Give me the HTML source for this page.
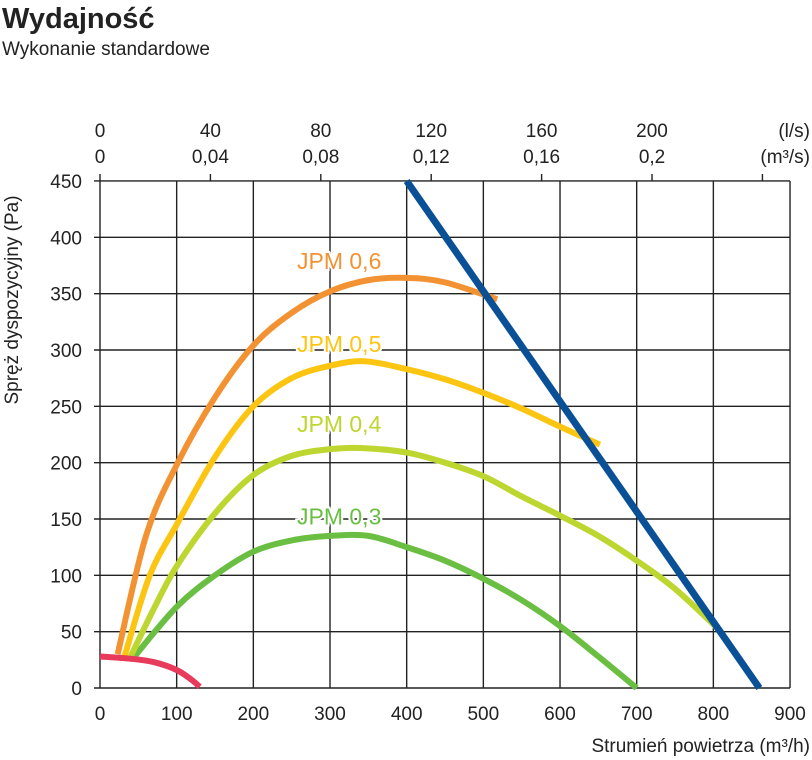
<!DOCTYPE html>
<html><head><meta charset="utf-8"><style>
body{margin:0;background:#fff;}
svg{display:block;font-family:"Liberation Sans",sans-serif;}
</style></head><body>
<svg width="812" height="760" viewBox="0 0 812 760" id="chart">
<text x="2" y="28" font-size="29" font-weight="bold" fill="#222">Wydajność</text>
<text x="2" y="55" font-size="19" fill="#222">Wykonanie standardowe</text>
<text transform="translate(18,300) rotate(-90)" text-anchor="middle" font-size="19" fill="#222">Spręż dyspozycyjny (Pa)</text>
<text x="810" y="752" text-anchor="end" font-size="19" fill="#222">Strumień powietrza (m³/h)</text>
<text x="810" y="137" text-anchor="end" font-size="19" fill="#222">(l/s)</text>
<text x="810" y="163" text-anchor="end" font-size="19" fill="#222">(m³/s)</text>
<g id="grid"></g><g id="series"></g><g id="labels"></g>
</svg>
<script>
const xTicks=[0,100,200,300,400,500,600,700,800,900];
const yTicks=[0,50,100,150,200,250,300,350,400,450];
const topTicksLs=[0,40,80,120,160,200,240];
const topLabelsLs=["0","40","80","120","160","200",""];
const topLabelsM3s=["0","0,04","0,08","0,12","0,16","0,2",""];
const jpm06=[[23,30],[60,135],[100,198],[150,258],[200,304],[250,333],[300,352],[350,362],[400,364],[450,360],[518,345]];
const jpm05=[[32,28],[65,100],[100,145],[150,205],[200,250],[250,275],[300,286],[345,290],[400,283],[450,274],[500,262],[550,248],[600,232],[652,216]];
const jpm04=[[40,28],[70,70],[100,108],[150,155],[200,189],[250,206],[300,212],[340,213],[400,209],[450,200],[500,188],[550,170],[600,153],[650,135],[700,113],[750,88],[810,50]];
const jpm03=[[45,28],[100,72],[150,100],[200,121],[250,131],[300,135],[350,135],[400,125],[450,113],[500,97],[550,78],[600,55],[650,28],[700,0]];
const minCurve=[[0,28],[40,26],[70,23],[100,16],[120,7],[130,1]];
const maxLine=[[400,450],[860,0]];
const seriesNames=["JPM 0,6","JPM 0,5","JPM 0,4","JPM 0,3"];
const labelPos=[[0,372],[0,298],[0,227],[0,145]];

const NS="http://www.w3.org/2000/svg";
const X=v=>100+v*0.7667, Y=v=>688-v*1.1267;
function mk(t,a,p){const e=document.createElementNS(NS,t);for(const k in a)e.setAttribute(k,a[k]);p.appendChild(e);return e;}
const grid=document.getElementById('grid');
xTicks.forEach(v=>{
 const l=mk('line',{x1:X(v),x2:X(v),y1:Y(450),y2:Y(0),stroke:'#222','stroke-width':1.4},grid);
 
 
 const t=mk('text',{x:X(v),y:720,'text-anchor':'middle','font-size':19,fill:'#222'},grid);t.textContent=v;
 
 
});
yTicks.forEach(v=>{
 const l=mk('line',{x1:X(0)-6,x2:X(900),y1:Y(v),y2:Y(v),stroke:'#222','stroke-width':1.4},grid);
 
 
 const t=mk('text',{x:82,y:Y(v)+7,'text-anchor':'end','font-size':19,fill:'#222'},grid);t.textContent=v;
 
 
});
topTicksLs.forEach((v,i)=>{
 const x=X(v*3.6);
 const l=mk('line',{x1:x,x2:x,y1:Y(450)-7,y2:Y(450),stroke:'#222','stroke-width':1.4},grid);
 
 
 if(topLabelsLs[i]){
  const a=mk('text',{x:x,y:137,'text-anchor':'middle','font-size':19,fill:'#222'},grid);a.textContent=topLabelsLs[i];
  
  
  const b=mk('text',{x:x,y:163,'text-anchor':'middle','font-size':19,fill:'#222'},grid);b.textContent=topLabelsM3s[i];
  
  
 }
});
function smooth(pts){
 const p=pts.map(q=>[X(q[0]),Y(q[1])]);let d='M'+p[0][0]+','+p[0][1];
 for(let i=0;i<p.length-1;i++){
  const p0=p[i-1]||p[i],p1=p[i],p2=p[i+1],p3=p[i+2]||p2;
  d+=` C${p1[0]+(p2[0]-p0[0])/6},${p1[1]+(p2[1]-p0[1])/6} ${p2[0]-(p3[0]-p1[0])/6},${p2[1]-(p3[1]-p1[1])/6} ${p2[0]},${p2[1]}`;
 }return d;
}
const ser=document.getElementById('series');
const defs=[[jpm03,'#6abf43','jpm-0-3-curve'],[jpm04,'#bed630','jpm-0-4-curve'],[jpm05,'#fcc512','jpm-0-5-curve'],[jpm06,'#f39232','jpm-0-6-curve'],[minCurve,'#e83a5a','minimum-curve'],[maxLine,'#0a5096','maximum-line']];
defs.forEach(d=>{
 const e=mk('path',{d:smooth(d[0]),fill:'none',stroke:d[1],'stroke-width':d[2]=='maximum-line'?7:6,'stroke-linecap':'butt'},ser);
 
 
});
const lab=document.getElementById('labels');
const labCols=['#f39232','#fcc512','#bed630','#6abf43'];
seriesNames.forEach((n,i)=>{
 const t=mk('text',{x:297,y:Y(labelPos[i][1]),'font-size':23,fill:labCols[i],stroke:'#fff','stroke-width':4,'paint-order':'stroke'},lab);t.textContent=n;
 
 
});
</script>
</body></html>
